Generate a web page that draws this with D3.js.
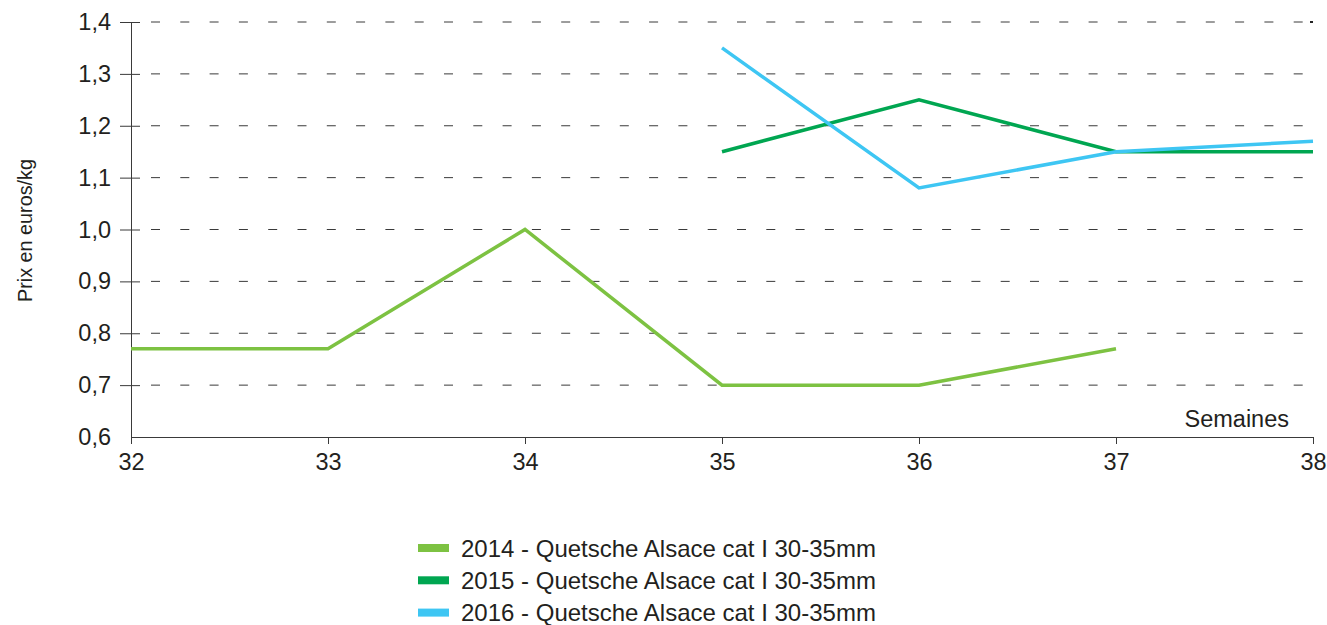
<!DOCTYPE html>
<html>
<head>
<meta charset="utf-8">
<script src="https://cdn.jsdelivr.net/npm/d3@7"></script>
<style>
  body { margin: 0; background: #fff; }
  text { font-family: "Liberation Sans", Arial, sans-serif; fill: #231f20; }
</style>
</head>
<body>
<div id="chart"></div>
<script>
// semaines
const weeks = [32, 33, 34, 35, 36, 37, 38];
const yTicks = [0.6, 0.7, 0.8, 0.9, 1.0, 1.1, 1.2, 1.3, 1.4];

const s2014 = [0.77, 0.77, 1.0, 0.70, 0.70, 0.77, null];
const s2015 = [null, null, null, 1.15, 1.25, 1.15, 1.15];
const s2016 = [null, null, null, 1.35, 1.08, 1.15, 1.17];

const seriesNames = [
  "2014 - Quetsche Alsace cat I 30-35mm",
  "2015 - Quetsche Alsace cat I 30-35mm",
  "2016 - Quetsche Alsace cat I 30-35mm"
];
const colors = ["#7dc242", "#00a651", "#3ec6f3"];

const width = 1327, height = 625;
const margin = { top: 22, right: 14, bottom: 188, left: 131 };
const w = width - margin.left - margin.right,
      h = height - margin.top - margin.bottom;

const svg = d3.select("#chart")
  .append("svg")
  .attr("width", width)
  .attr("height", height);

const g = svg.append("g")
  .attr("transform", `translate(${margin.left},${margin.top})`);

const x = d3.scaleLinear().domain([32, 38]).range([0, w]);
const y = d3.scaleLinear().domain([0.6, 1.4]).range([h, 0]);

const fmt = d => d3.format(".1f")(d).replace(".", ",");

// dashed grid
g.append("g")
  .selectAll("line")
  .data(yTicks.slice(1))
  .join("line")
  .attr("x1", 9)
  .attr("x2", w)
  .attr("y1", d => y(d))
  .attr("y2", d => y(d))
  .attr("stroke", "#3a3a3a")
  .attr("stroke-width", 1)
  .attr("stroke-dasharray", "9,20.3")
  .attr("stroke-dashoffset", -11);

// small mark at top right end
g.append("line")
  .attr("x1", w - 3).attr("x2", w)
  .attr("y1", y(1.4)).attr("y2", y(1.4))
  .attr("stroke", "#222").attr("stroke-width", 2);

// Y axis
const yAxis = g.append("g")
  .call(d3.axisLeft(y).tickValues(yTicks).tickFormat(fmt).tickSize(11).tickSizeOuter(0));
yAxis.select(".domain").attr("stroke", "#3a3a3a");
yAxis.selectAll(".tick line").attr("stroke", "#3a3a3a").attr("x2", d => d === 0.6 ? -11 : 9).attr("x1", -11);
yAxis.selectAll(".tick text")
  .attr("x", -20)
  .style("font-size", "23.5px");

// X axis
const xAxis = g.append("g")
  .attr("transform", `translate(0,${h})`)
  .call(d3.axisBottom(x).tickValues(weeks).tickFormat(d3.format("d")).tickSize(7).tickSizeOuter(0));
xAxis.select(".domain").attr("stroke", "#3a3a3a");
xAxis.selectAll(".tick line").attr("stroke", "#3a3a3a");
xAxis.selectAll(".tick text")
  .attr("y", 33)
  .attr("dy", null)
  .style("font-size", "23.5px");

// axis titles
svg.append("text")
  .attr("transform", `translate(32,${margin.top + h / 2 + 1}) rotate(-90)`)
  .attr("text-anchor", "middle")
  .style("font-size", "19.8px")
  .text("Prix en euros/kg");

svg.append("text")
  .attr("x", 1289)
  .attr("y", 427)
  .attr("text-anchor", "end")
  .style("font-size", "23.5px")
  .text("Semaines");

// lines
const line = d3.line()
  .defined(d => d.v !== null)
  .x(d => x(d.w))
  .y(d => y(d.v));

[s2014, s2015, s2016].forEach((s, i) => {
  g.append("path")
    .datum(weeks.map((wk, j) => ({ w: wk, v: s[j] })))
    .attr("fill", "none")
    .attr("stroke", colors[i])
    .attr("stroke-width", 3.5)
    .attr("d", line);
});

// legend
const legend = svg.append("g").attr("transform", "translate(418,548)");
const item = legend.selectAll("g")
  .data(seriesNames)
  .join("g")
  .attr("transform", (d, i) => `translate(0,${i * 32.3})`);
item.append("rect")
  .attr("x", 0).attr("y", -4)
  .attr("width", 31).attr("height", 8)
  .attr("fill", (d, i) => colors[i]);
item.append("text")
  .attr("x", 43)
  .attr("y", 8.5)
  .style("font-size", "24px")
  .text(d => d);
</script>
</body>
</html>
